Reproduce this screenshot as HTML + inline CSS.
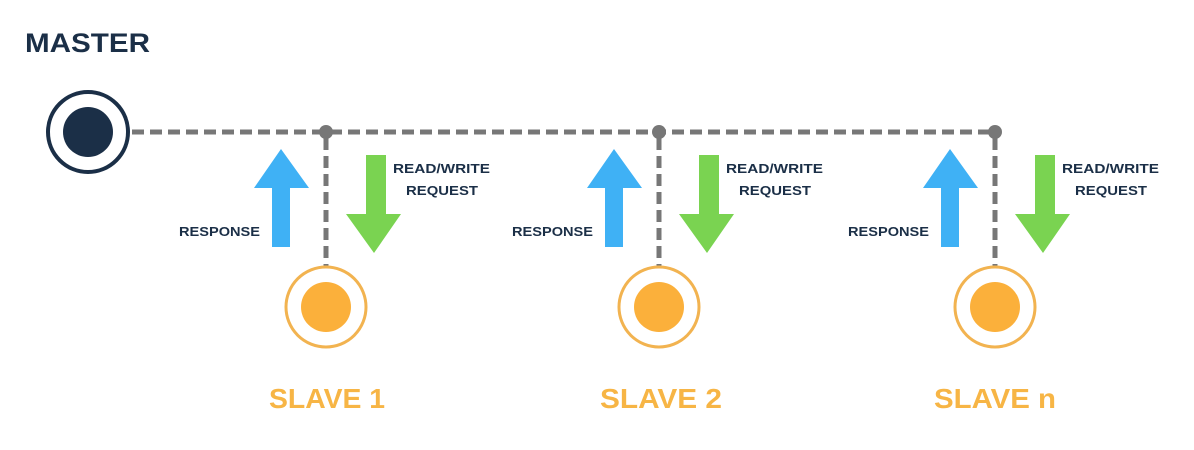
<!DOCTYPE html>
<html><head><style>body{margin:0;background:#fff}svg{display:block}text{font-family:"Liberation Sans",sans-serif;font-weight:bold}</style></head>
<body>
<svg width="1194" height="450" viewBox="0 0 1194 450">
<text x="25" y="52" font-size="27" fill="#1b2f47" textLength="125" lengthAdjust="spacingAndGlyphs">MASTER</text>
<line x1="132" y1="132" x2="995" y2="132" stroke="#777" stroke-width="5" stroke-dasharray="12,6"/>
<circle cx="88" cy="132" r="40" fill="#fff" stroke="#1b2f47" stroke-width="4"/>
<circle cx="88" cy="132" r="25" fill="#1b2f47"/>
<g id="s">
<line x1="326" y1="138" x2="326" y2="266" stroke="#777" stroke-width="5" stroke-dasharray="12,6"/>
<circle cx="326" cy="132" r="7" fill="#777"/>
<polygon points="272,247 290,247 290,188 309,188 281,149 254,188 272,188" fill="#3fb1f5"/>
<polygon points="366,155 386,155 386,214 401,214 374,253 346,214 366,214" fill="#7ad351"/>
<circle cx="326" cy="307" r="40" fill="#fff" stroke="#f2b350" stroke-width="3"/>
<circle cx="326" cy="307" r="25" fill="#fbb03b"/>
<text x="179" y="236" font-size="13" fill="#1b2f47" textLength="81" lengthAdjust="spacingAndGlyphs">RESPONSE</text>
<text x="393" y="173" font-size="13" fill="#1b2f47" textLength="97" lengthAdjust="spacingAndGlyphs">READ/WRITE</text>
<text x="406" y="195" font-size="13" fill="#1b2f47" textLength="72" lengthAdjust="spacingAndGlyphs">REQUEST</text>
</g>
<use href="#s" x="333"/>
<use href="#s" x="669"/>
<text x="269" y="408" font-size="28" fill="#f7b545" textLength="116" lengthAdjust="spacingAndGlyphs">SLAVE 1</text>
<text x="600" y="408" font-size="28" fill="#f7b545" textLength="122" lengthAdjust="spacingAndGlyphs">SLAVE 2</text>
<text x="934" y="408" font-size="28" fill="#f7b545" textLength="122" lengthAdjust="spacingAndGlyphs">SLAVE n</text>
</svg>
</body></html>
